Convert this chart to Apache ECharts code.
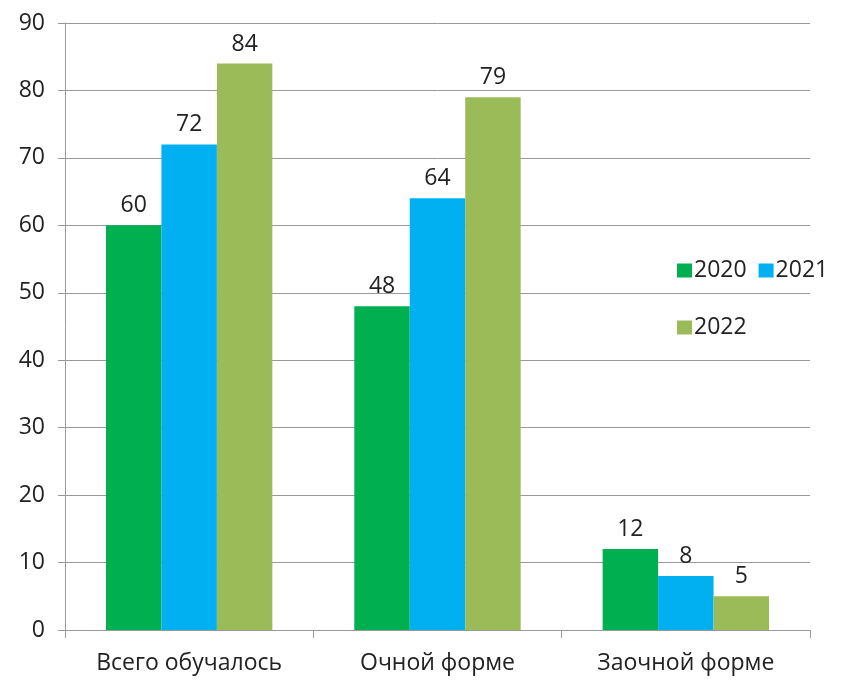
<!DOCTYPE html>
<html><head><meta charset="utf-8">
<script src="https://cdn.jsdelivr.net/npm/echarts@6/dist/echarts.min.js"></script>
<style>html,body{margin:0;padding:0;background:#fff}#c{width:842px;height:680px}</style>
</head><body><div id="c"></div>
<script>
const categories = ['Всего обучалось', 'Очной форме', 'Заочной форме'];
const s2020 = [60, 48, 12];
const s2021 = [72, 64, 8];
const s2022 = [84, 79, 5];
const seriesNames = ['2020', '2021', '2022'];
const colors = ['#00B050', '#00B0F0', '#9BBB59'];
const font = 'Open Sans';
const chart = echarts.init(document.getElementById('c'));
const lbl = {show: true, position: 'top', distance: 8, color: '#222', fontSize: 23, fontFamily: font};
chart.setOption({
  animation: false,
  color: colors,
  grid: {left: 65, right: 32, top: 23, bottom: 50, containLabel: false},
  legend: [
    {data: ['2020', '2021'], left: 672, top: 254, itemWidth: 15, itemHeight: 14, itemGap: 12, icon: 'rect',
     textStyle: {fontSize: 23, fontFamily: font, color: '#222', padding: [0,0,0,-3]}},
    {data: ['2022'], left: 672, top: 311, itemWidth: 15, itemHeight: 14, icon: 'rect',
     textStyle: {fontSize: 23, fontFamily: font, color: '#222', padding: [0,0,0,-3]}}
  ],
  xAxis: {type: 'category', data: categories,
    axisLine: {lineStyle: {color: '#999'}},
    axisTick: {show: true, length: 8, lineStyle: {color: '#999'}},
    axisLabel: {fontSize: 23, fontFamily: font, color: '#222', margin: 22}},
  yAxis: {type: 'value', min: 0, max: 90, interval: 10,
    axisLine: {show: true, lineStyle: {color: '#999'}},
    axisTick: {show: true, length: 7, lineStyle: {color: '#999'}},
    splitLine: {lineStyle: {color: '#999'}},
    axisLabel: {fontSize: 23, fontFamily: font, color: '#222', margin: 20}},
  series: [
    {name: seriesNames[0], type: 'bar', data: s2020, barGap: '0%', barCategoryGap: '33%', label: lbl},
    {name: seriesNames[1], type: 'bar', data: s2021, barGap: '0%', barCategoryGap: '33%', label: lbl},
    {name: seriesNames[2], type: 'bar', data: s2022, barGap: '0%', barCategoryGap: '33%', label: lbl}
  ]
});
</script></body></html>
